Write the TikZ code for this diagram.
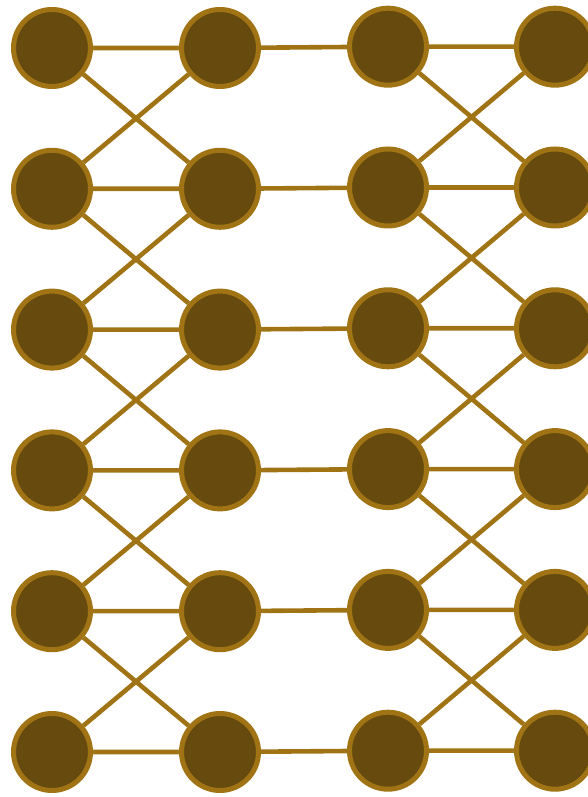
\documentclass[tikz,border=0pt]{standalone}
\usetikzlibrary{backgrounds}
\definecolor{ochre}{HTML}{A07414}
\definecolor{umber}{HTML}{664A0E}
\tikzset{
  unit/.style={circle,draw=ochre,fill=umber,line width=5pt,minimum size=77pt,inner sep=0pt},
  link/.style={ochre,line width=4.6pt},
}
\begin{document}
\begin{tikzpicture}[x=1pt,y=1pt]
  \useasboundingbox (0,0) rectangle (587,797);
  \foreach \r in {0,...,5} {
    \node[unit] (a\r) at (52,749-140.8*\r) {};
    \node[unit] (b\r) at (220,749-140.8*\r) {};
    \node[unit] (c\r) at (388,750.3-140.8*\r) {};
    \node[unit] (d\r) at (555,750.3-140.8*\r) {};
  }
  \begin{scope}[on background layer]
    \foreach \r in {0,...,5} \draw[link] (a\r) -- (b\r) (b\r) -- (c\r) (c\r) -- (d\r);
    \foreach \r in {0,...,4} {
      \pgfmathtruncatemacro{\s}{\r+1}
      \draw[link] (a\r) -- (b\s) (a\s) -- (b\r);
      \draw[link] (c\r) -- (d\s) (c\s) -- (d\r);
    }
  \end{scope}
\end{tikzpicture}
\end{document}
